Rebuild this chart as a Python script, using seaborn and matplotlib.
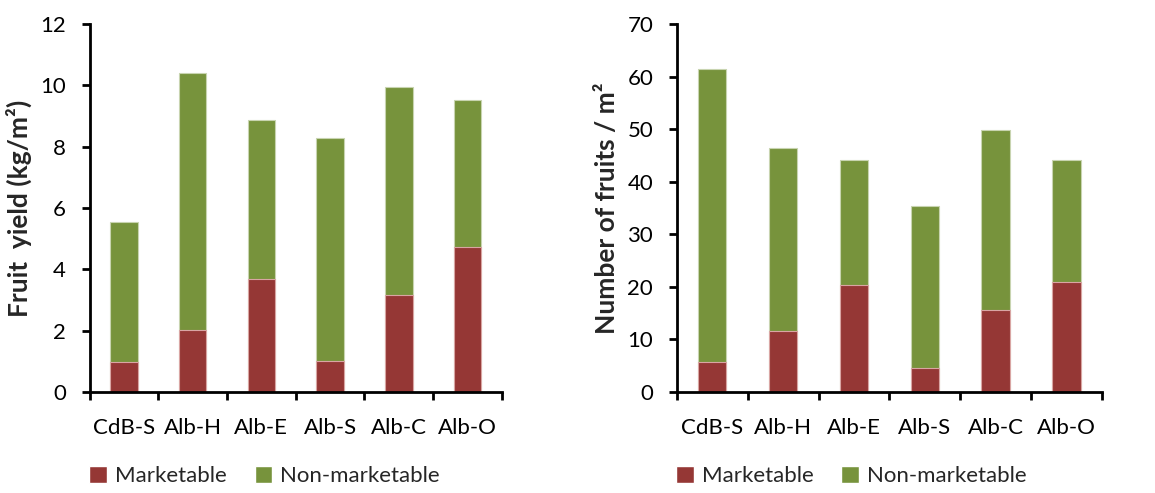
import matplotlib
matplotlib.use("Agg")
import matplotlib.pyplot as plt
import seaborn as sns
import pandas as pd
import numpy as np
from matplotlib.patches import Patch

categories = ["CdB-S", "Alb-H", "Alb-E", "Alb-S", "Alb-C", "Alb-O"]
yield_marketable = [0.98, 2.02, 3.70, 1.02, 3.16, 4.74]
yield_total = [5.55, 10.41, 8.87, 8.27, 9.95, 9.52]
fruits_marketable = [5.7, 11.6, 20.4, 4.5, 15.5, 21.0]
fruits_total = [61.4, 46.4, 44.1, 35.4, 49.9, 44.1]

RED = "#953735"
GREEN = "#77933C"

sns.set_theme(style="ticks")
plt.rcParams["font.family"] = ["Lato", "DejaVu Sans"]

fig = plt.figure(figsize=(11.55, 4.93), dpi=100)
ax1 = fig.add_axes([0.0775, 0.205, 0.357, 0.746])
ax2 = fig.add_axes([0.586, 0.205, 0.368, 0.746])

def draw(ax, mk, tot, ymax, step, ylabel):
    df = pd.DataFrame({"cat": categories, "mk": mk, "tot": tot})
    sns.barplot(data=df, x="cat", y="tot", color=GREEN, saturation=1, width=0.4,
                ax=ax, edgecolor="#c8d4b0", linewidth=0.8)
    sns.barplot(data=df, x="cat", y="mk", color=RED, saturation=1, width=0.4,
                ax=ax, edgecolor="#d9a5a3", linewidth=0.8)
    ax.set_xlim(-0.5, 5.5)
    ax.set_ylim(0, ymax)
    ax.set_yticks(np.arange(0, ymax + 0.001, step))
    ax.set_xlabel("")
    ax.set_ylabel(ylabel, fontsize=19, fontweight="bold", labelpad=6)
    ax.set_xticks(range(len(categories)))
    ax.set_xticklabels(categories)
    ax.set_xticks(np.arange(-0.5, 6.0, 1.0), minor=True)
    ax.tick_params(axis="x", which="major", length=0, pad=19, labelsize=16, colors="black")
    ax.tick_params(axis="x", which="minor", length=6, width=2, direction="out", color="black")
    ax.tick_params(axis="y", length=6, width=2, direction="out", pad=11, labelsize=16,
                   color="black", labelcolor="black")
    for s in ["left", "bottom"]:
        ax.spines[s].set_linewidth(2)
        ax.spines[s].set_color("black")
    sns.despine(ax=ax)
    ax.set_facecolor("white")

draw(ax1, yield_marketable, yield_total, 12, 2, "Fruit  yield (kg/m²)")
draw(ax2, fruits_marketable, fruits_total, 70, 10, "Number of fruits / m²")

handles = [Patch(facecolor=RED, label="Marketable"), Patch(facecolor=GREEN, label="Non-marketable")]
for x in [0.064, 0.572]:
    fig.legend(handles=handles, loc="center left", bbox_to_anchor=(x, 0.034), ncol=2,
               frameon=False, fontsize=16, handlelength=0.8, handleheight=0.8,
               handletextpad=0.35, columnspacing=1.25, borderpad=0.2)

fig.savefig("out.png", dpi=100, facecolor="white")
